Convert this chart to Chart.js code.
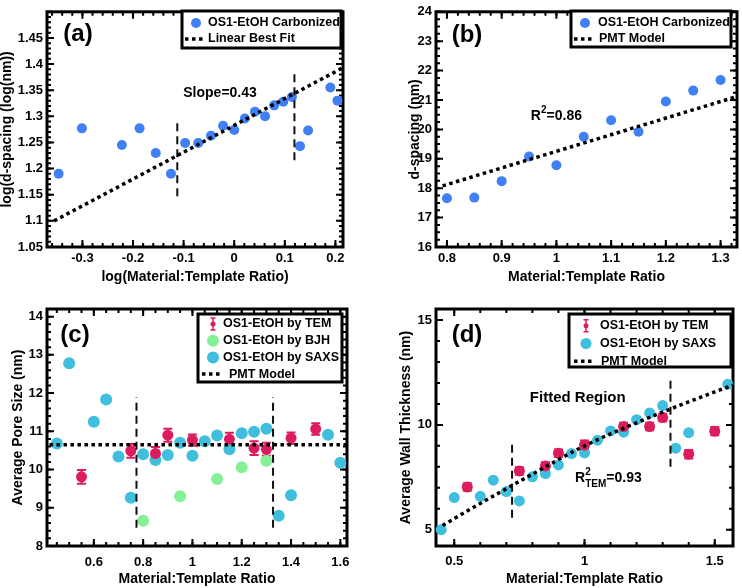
<!DOCTYPE html>
<html><head><meta charset="utf-8">
<script src="https://cdn.jsdelivr.net/npm/chart.js@4.4.1/dist/chart.umd.min.js"></script>
<style>
html,body{margin:0;padding:0;background:#fff;}
#wrap{position:relative;width:742px;height:588px;overflow:hidden;}
canvas{position:absolute;}
</style></head><body>
<div id="wrap">
<canvas id="ca" width="371" height="294" style="left:0;top:0"></canvas>
<canvas id="cb" width="371" height="294" style="left:371px;top:0"></canvas>
<canvas id="cc" width="371" height="294" style="left:0;top:294px"></canvas>
<canvas id="cd" width="371" height="294" style="left:371px;top:294px"></canvas>
</div>
<script>
// ---------- Panel (a) ----------
const aX = [-0.347,-0.301,-0.222,-0.187,-0.155,-0.125,-0.097,-0.071,-0.046,-0.022,0,0.021,0.041,0.061,0.079,0.097,0.114,0.130,0.146,0.190,0.204];
const aY = [1.190,1.277,1.245,1.277,1.230,1.190,1.249,1.249,1.263,1.282,1.274,1.296,1.309,1.300,1.321,1.328,1.337,1.243,1.273,1.355,1.330];
const aFitX = [-0.356, 0.213];
const aFitY = [1.100, 1.392];
const aDiv1X = [-0.1125,-0.1125], aDiv1Y = [1.147,1.289];
const aDiv2X = [0.119,0.119], aDiv2Y = [1.216,1.386];
const aXTicks = [-0.3,-0.2,-0.1,0,0.1,0.2];
const aXLabels = ['-0.3','-0.2','-0.1','0','0.1','0.2'];
const aYTicks = [1.05,1.1,1.15,1.2,1.25,1.3,1.35,1.4,1.45];
const aYLabels = ['1.05','1.1','1.15','1.2','1.25','1.3','1.35','1.4','1.45'];

// ---------- Panel (b) ----------
const bX = [0.8,0.85,0.9,0.95,1.0,1.05,1.1,1.15,1.2,1.25,1.3];
const bY = [17.66,17.68,18.24,19.08,18.78,19.75,20.31,19.92,20.95,21.32,21.68];
const bFitX = [0.792, 1.325];
const bFitY = [18.08, 21.09];
const bXTicks = [0.8,0.9,1,1.1,1.2,1.3];
const bXLabels = ['0.8','0.9','1','1.1','1.2','1.3'];
const bYTicks = [16,17,18,19,20,21,22,23,24];
const bYLabels = ['16','17','18','19','20','21','22','23','24'];

// ---------- Panel (c) ----------
const cSaxsX = [0.45,0.5,0.6,0.65,0.7,0.75,0.8,0.85,0.9,0.95,1.0,1.05,1.1,1.15,1.2,1.25,1.3,1.35,1.4,1.55,1.6];
const cSaxsY = [10.68,12.78,11.25,11.83,10.34,9.26,10.40,10.25,10.38,10.70,10.36,10.74,10.89,10.53,10.95,10.99,11.07,8.79,9.33,10.91,10.18];
const cTemX = [0.55,0.75,0.85,0.9,1.0,1.15,1.25,1.3,1.4,1.5];
const cTemY = [9.81,10.49,10.42,10.90,10.77,10.79,10.56,10.53,10.82,11.06];
const cTemErr = [0.18,0.18,0.17,0.17,0.15,0.17,0.18,0.17,0.15,0.15];
const cBjhX = [0.8,0.95,1.1,1.2,1.3];
const cBjhY = [8.66,9.30,9.75,10.06,10.23];
const cFitX = [0.42, 1.625];
const cFitY = [10.65, 10.65];
const cDiv1X = [0.773,0.773], cDiv1Y = [8.48,11.89];
const cDiv2X = [1.327,1.327], cDiv2Y = [8.48,11.89];
const cXTicks = [0.6,0.8,1,1.2,1.4,1.6];
const cXLabels = ['0.6','0.8','1','1.2','1.4','1.6'];
const cYTicks = [8,9,10,11,12,13,14];
const cYLabels = ['8','9','10','11','12','13','14'];

// ---------- Panel (d) ----------
const dSaxsX = [0.45,0.5,0.6,0.65,0.7,0.75,0.8,0.85,0.9,0.95,1.0,1.05,1.1,1.15,1.2,1.25,1.3,1.35,1.4,1.55];
const dSaxsY = [5.0,6.53,6.59,7.36,6.82,6.37,7.52,7.68,8.09,8.63,8.66,9.27,9.71,9.65,10.25,10.57,10.92,8.89,9.63,11.94];
const dTemX = [0.55,0.75,0.85,0.9,1.0,1.15,1.25,1.3,1.4,1.5];
const dTemY = [7.04,7.80,8.04,8.65,9.04,9.92,9.92,10.35,8.60,9.70];
const dTemErr = [0.18,0.18,0.18,0.18,0.22,0.18,0.18,0.18,0.2,0.2];
const dFitX = [0.455,0.6,0.8,1.0,1.2,1.4,1.57];
const dFitY = [5.2,6.25,7.65,9.0,10.1,11.1,11.9];
const dDiv1X = [0.722,0.722], dDiv1Y = [5.57,9.16];
const dDiv2X = [1.33,1.33], dDiv2Y = [8.0,12.34];
const dXTicks = [0.5,1,1.5];
const dXLabels = ['0.5','1','1.5'];
const dYTicks = [5,10,15];
const dYLabels = ['5','10','15'];

// ---------- styling ----------
const FONT = '"Liberation Sans", Arial, sans-serif';
Chart.defaults.font.family = FONT;
Chart.defaults.font.weight = 'bold';
Chart.defaults.color = '#000';
Chart.defaults.animation = false;

const BLUE = '#4080f4', CYAN = '#3fbfdd', CRIM = '#dc1c5e', GREEN = '#86f097';

function xy(xs, ys){ return xs.map((x,i)=>({x:x, y:ys[i]})); }
function pts(label, xs, ys, color, r, extra){
  return Object.assign({type:'scatter', label, data: xy(xs,ys), backgroundColor: color, borderColor: color,
    borderWidth:0, pointRadius:r, pointHoverRadius:r, clip:false, order:5}, extra||{});
}
function dotted(label, xs, ys, extra){
  return Object.assign({type:'scatter', label, data: xy(xs,ys), showLine:true, pointRadius:0, borderColor:'#000',
    backgroundColor:'#000', borderWidth:3.5, borderDash:[3.5,3.5], fill:false, clip:false, order:1}, extra||{});
}
function dashed(xs, ys){
  return {type:'scatter', label:'', data: xy(xs,ys), showLine:true, pointRadius:0, borderColor:'#111',
    borderWidth:2, borderDash:[8,5], fill:false, clip:false, order:2};
}

// frame with inward ticks on all four sides
const framePlugin = {
  id:'frame',
  beforeDatasetsDraw(chart, args, o){
    const ctx = chart.ctx, a = chart.chartArea, sx = chart.scales.x, sy = chart.scales.y;
    ctx.save();
    ctx.strokeStyle = '#000';
    ctx.lineWidth = 2;
    const minorVals = (s, step) => { const out=[]; let v = Math.ceil(s.min/step - 1e-6)*step; for(; v <= s.max+1e-9; v += step) out.push(v); return out; };
    const tx = (v, len) => { const p = sx.getPixelForValue(v); ctx.beginPath(); ctx.moveTo(p, a.bottom); ctx.lineTo(p, a.bottom-len); ctx.moveTo(p, a.top); ctx.lineTo(p, a.top+len); ctx.stroke(); };
    const ty = (v, len) => { const p = sy.getPixelForValue(v); ctx.beginPath(); ctx.moveTo(a.left, p); ctx.lineTo(a.left+len, p); ctx.moveTo(a.right, p); ctx.lineTo(a.right-len, p); ctx.stroke(); };
    minorVals(sx, o.xMinor).forEach(v => tx(v, 4));
    minorVals(sy, o.yMinor).forEach(v => ty(v, 4));
    sx.ticks.forEach(t => tx(t.value, 7));
    sy.ticks.forEach(t => ty(t.value, 7));
    ctx.lineWidth = 3;
    ctx.strokeRect(a.left, a.top, a.right-a.left, a.bottom-a.top);
    // error bars
    chart.data.datasets.forEach(ds => {
      if(!ds.errors) return;
      ctx.strokeStyle = ds.backgroundColor; ctx.lineWidth = 2;
      ds.data.forEach((d,i) => {
        const px = sx.getPixelForValue(d.x), y1 = sy.getPixelForValue(d.y - ds.errors[i]), y2 = sy.getPixelForValue(d.y + ds.errors[i]);
        ctx.beginPath(); ctx.moveTo(px, y1); ctx.lineTo(px, y2);
        ctx.moveTo(px-4.5, y1); ctx.lineTo(px+4.5, y1); ctx.moveTo(px-4.5, y2); ctx.lineTo(px+4.5, y2); ctx.stroke();
      });
    });
    ctx.restore();
  }
};

// boxed legend built from the datasets
const legendPlugin = {
  id:'boxlegend',
  afterDraw(chart, args, o){
    if(!o.rows) return;
    const ctx = chart.ctx;
    ctx.save();
    ctx.fillStyle = '#fff'; ctx.fillRect(o.x, o.y, o.w, o.h);
    ctx.lineWidth = 3; ctx.strokeStyle = '#000'; ctx.strokeRect(o.x, o.y, o.w, o.h);
    ctx.font = 'bold 12.5px ' + FONT; ctx.textBaseline = 'middle'; ctx.textAlign = 'left';
    o.rows.forEach((r, i) => {
      const ds = chart.data.datasets[r.ds];
      const cy = o.y0 + i*o.dy;
      if(r.kind === 'point'){
        ctx.fillStyle = ds.backgroundColor; ctx.beginPath(); ctx.arc(o.sx, cy, ds.pointRadius, 0, Math.PI*2); ctx.fill();
      } else if(r.kind === 'err'){
        ctx.strokeStyle = ds.backgroundColor; ctx.fillStyle = ds.backgroundColor; ctx.lineWidth = 1.5;
        ctx.beginPath(); ctx.moveTo(o.sx, cy-6); ctx.lineTo(o.sx, cy+6); ctx.moveTo(o.sx-2.5, cy-6); ctx.lineTo(o.sx+2.5, cy-6);
        ctx.moveTo(o.sx-2.5, cy+6); ctx.lineTo(o.sx+2.5, cy+6); ctx.stroke();
        ctx.beginPath(); ctx.arc(o.sx, cy, 2.5, 0, Math.PI*2); ctx.fill();
      } else {
        ctx.strokeStyle = ds.borderColor; ctx.lineWidth = ds.borderWidth; ctx.setLineDash(ds.borderDash);
        ctx.beginPath(); ctx.moveTo(o.lx0, cy); ctx.lineTo(o.lx1, cy); ctx.stroke(); ctx.setLineDash([]);
      }
      ctx.fillStyle = '#000';
      ctx.fillText(ds.label, r.kind === 'line' ? o.tx2 : o.tx, cy);
    });
    ctx.restore();
  }
};

// text notes in data coordinates
const notePlugin = {
  id:'notes',
  afterDraw(chart, args, o){
    if(!o.items) return;
    const ctx = chart.ctx, sx = chart.scales.x, sy = chart.scales.y;
    ctx.save(); ctx.fillStyle = '#000'; ctx.textBaseline = 'middle'; ctx.textAlign = 'left';
    o.items.forEach(it => {
      let px, py;
      if(it.px !== undefined){ px = it.px; py = it.py; } else { px = sx.getPixelForValue(it.x); py = sy.getPixelForValue(it.y); }
      let total = 0;
      it.parts.forEach(p => { ctx.font = 'bold ' + p.size + 'px ' + FONT; p.w = ctx.measureText(p.t).width; if(!p.noAdvance) total += p.w; });
      let cx = it.align === 'center' ? px - total/2 : px;
      it.parts.forEach(p => { ctx.font = 'bold ' + p.size + 'px ' + FONT; ctx.fillText(p.t, cx, py + (p.dy||0)); if(!p.noAdvance) cx += p.w; });
    });
    ctx.restore();
  }
};

function scales(cfg){
  return {
    x: { type:'linear', min: cfg.xMin, max: cfg.xMax,
      afterFit: s => { s.height = cfg.xH; },
      afterBuildTicks: s => { s.ticks = cfg.xTicks.map(v => ({value:v})); },
      grid:{display:false, drawTicks:false}, border:{display:false},
      ticks:{ autoSkip:false, maxRotation:0, padding: cfg.xPad, font:{size:13, weight:'bold'}, color:'#000',
        callback: (v,i) => cfg.xLabels[i] },
      title:{ display:true, text: cfg.xTitle, font:{size:14, weight:'bold'}, color:'#000', padding:{top:0, bottom: cfg.xTitlePad} } },
    y: { type:'linear', min: cfg.yMin, max: cfg.yMax,
      afterFit: s => { s.width = cfg.yW; },
      afterBuildTicks: s => { s.ticks = cfg.yTicks.map(v => ({value:v})); },
      grid:{display:false, drawTicks:false}, border:{display:false},
      ticks:{ autoSkip:false, padding: 4, font:{size:13, weight:'bold'}, color:'#000',
        callback: (v,i) => cfg.yLabels[i] },
      title:{ display:true, text: cfg.yTitle, font:{size:14, weight:'bold'}, color:'#000', padding:{top: cfg.yTitlePad, bottom:0} } }
  };
}

function make(id, datasets, cfg, plug){
  return new Chart(document.getElementById(id), {
    type:'scatter',
    data:{ datasets },
    options:{
      responsive:false, animation:false, devicePixelRatio:1,
      layout:{ padding:{ left:0, top: cfg.top, right: cfg.right, bottom:0 } },
      scales: scales(cfg),
      plugins:{ legend:{display:false}, tooltip:{enabled:false},
        frame:{ xMinor: cfg.xMinor, yMinor: cfg.yMinor },
        boxlegend: plug.legend, notes: plug.notes }
    },
    plugins:[framePlugin, legendPlugin, notePlugin]
  });
}

// (a)
make('ca', [
  pts('OS1-EtOH Carbonized', aX, aY, BLUE, 5),
  dotted('Linear Best Fit', aFitX, aFitY),
  dashed(aDiv1X, aDiv1Y), dashed(aDiv2X, aDiv2Y)
], { xMin:-0.37, xMax:0.215, yMin:1.05, yMax:1.5, xTicks:aXTicks, xLabels:aXLabels, yTicks:aYTicks, yLabels:aYLabels,
     xMinor:0.02, yMinor:0.01, xH:47, yW:47, top:8, right:28, xPad:4, xTitlePad:8, yTitlePad:-1,
     xTitle:'log(Material:Template Ratio)', yTitle:'log(d-spacing (log(nm))' },
{ legend:{ x:182, y:11, w:159, h:37, y0:23, dy:16, sx:196, tx:208, tx2:208, lx0:185, lx1:206, rows:[{ds:0,kind:'point'},{ds:1,kind:'line'}] },
  notes:{ items:[ {px:78, py:34, align:'center', parts:[{t:'(a)', size:24}]},
                  {x:-0.028, y:1.345, align:'center', parts:[{t:'Slope=0.43', size:14}]} ] } });

// (b)
make('cb', [
  pts('OS1-EtOH Carbonized', bX, bY, BLUE, 5),
  dotted('PMT Model', bFitX, bFitY)
], { xMin:0.78, xMax:1.33, yMin:16, yMax:24, xTicks:bXTicks, xLabels:bXLabels, yTicks:bYTicks, yLabels:bYLabels,
     xMinor:0.02, yMinor:0.25, xH:47, yW:65, top:8, right:4, xPad:4, xTitlePad:8, yTitlePad:36,
     xTitle:'Material:Template Ratio', yTitle:'d-spacing (nm)' },
{ legend:{ x:200, y:11, w:160, h:36, y0:23, dy:16, sx:214, tx:227, tx2:228, lx0:203, lx1:224, rows:[{ds:0,kind:'point'},{ds:1,kind:'line'}] },
  notes:{ items:[ {px:96, py:35, align:'center', parts:[{t:'(b)', size:24}]},
                  {x:1.0, y:20.44, align:'center', parts:[{t:'R', size:14},{t:'2', size:10, dy:-6},{t:'=0.86', size:14}]} ] } });

// (c)
make('cc', [
  pts('OS1-EtOH by TEM', cTemX, cTemY, CRIM, 5.5, {errors:cTemErr, order:3}),
  pts('OS1-EtOH by BJH', cBjhX, cBjhY, GREEN, 6),
  pts('OS1-EtOH by SAXS', cSaxsX, cSaxsY, CYAN, 6, {order:6}),
  dotted('PMT Model', cFitX, cFitY),
  dashed(cDiv1X, cDiv1Y), dashed(cDiv2X, cDiv2Y)
], { xMin:0.41, xMax:1.627, yMin:8, yMax:14.2, xTicks:cXTicks, xLabels:cXLabels, yTicks:cYTicks, yLabels:cYLabels,
     xMinor:0.05, yMinor:0.2, xH:42, yW:47, top:15, right:24, xPad:9, xTitlePad:0, yTitlePad:10,
     xTitle:'Material:Template Ratio', yTitle:'Average Pore Size (nm)' },
{ legend:{ x:198, y:20, w:144, h:68, y0:30, dy:16.7, sx:213, tx:223, tx2:229, lx0:202, lx1:223, rows:[{ds:0,kind:'err'},{ds:1,kind:'point'},{ds:2,kind:'point'},{ds:3,kind:'line'}] },
  notes:{ items:[ {px:75, py:41, align:'center', parts:[{t:'(c)', size:24}]} ] } });

// (d)
make('cd', [
  pts('OS1-EtOH by TEM', dTemX, dTemY, CRIM, 5.5, {errors:dTemErr, order:4}),
  pts('OS1-EtOH by SAXS', dSaxsX, dSaxsY, CYAN, 5.5, {order:5}),
  dotted('PMT Model', dFitX, dFitY, {cubicInterpolationMode:'monotone'}),
  dashed(dDiv1X, dDiv1Y), dashed(dDiv2X, dDiv2Y)
], { xMin:0.43, xMax:1.57, yMin:4.22, yMax:15.53, xTicks:dXTicks, xLabels:dXLabels, yTicks:dYTicks, yLabels:dYLabels,
     xMinor:0.1, yMinor:1, xH:42, yW:65, top:15, right:9, xPad:8, xTitlePad:0, yTitlePad:27,
     xTitle:'Material:Template Ratio', yTitle:'Average Wall Thickness (nm)' },
{ legend:{ x:198, y:20, w:162, h:53, y0:31.7, dy:17.8, sx:215, tx:229, tx2:230, lx0:203, lx1:224, rows:[{ds:0,kind:'err'},{ds:1,kind:'point'},{ds:2,kind:'line'}] },
  notes:{ items:[ {px:96, py:41, align:'center', parts:[{t:'(d)', size:24}]},
                  {x:0.974, y:11.27, align:'center', parts:[{t:'Fitted Region', size:15}]},
                  {x:0.964, y:7.44, align:'left', parts:[{t:'R', size:14},{t:'2', size:10, dy:-6, noAdvance:true},{t:'TEM', size:10, dy:6},{t:'=0.93', size:14}]} ] } });
</script>
</body></html>
